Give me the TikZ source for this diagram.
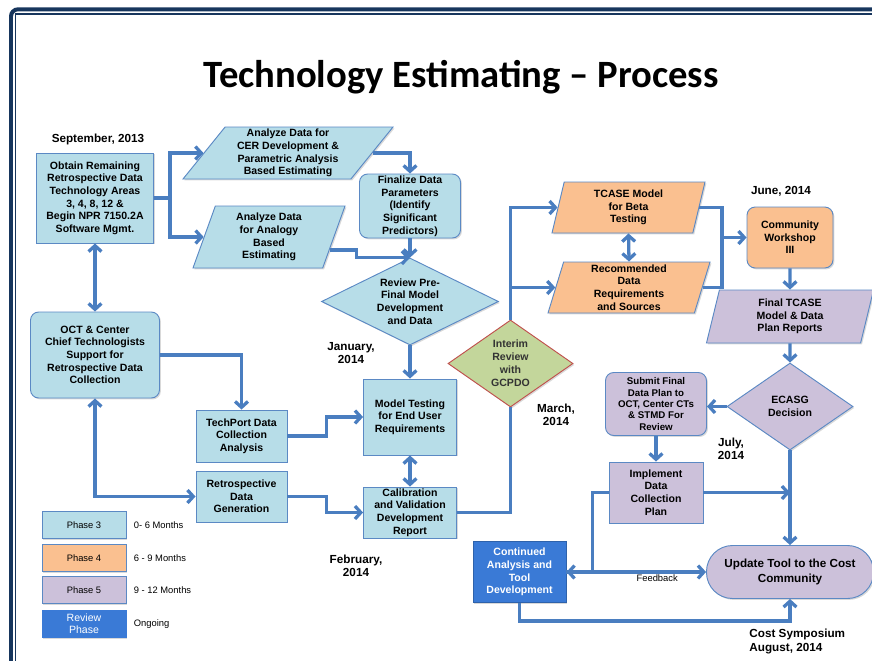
\documentclass[tikz,border=0pt]{standalone}
\usepackage{fontspec}
\setmainfont{Liberation Sans}
\newfontfamily\titlefont{Carlito}
\usetikzlibrary{shapes.geometric, arrows.meta, shadows, positioning}

\definecolor{phasethree}{RGB}{183,221,232}
\definecolor{phasefour}{RGB}{250,192,144}
\definecolor{phasefive}{RGB}{204,193,218}
\definecolor{reviewblue}{RGB}{58,122,214}
\definecolor{interimgreen}{RGB}{195,214,155}
\definecolor{interimred}{RGB}{192,80,77}
\definecolor{boxline}{RGB}{91,137,196}
\definecolor{linkblue}{RGB}{74,126,192}
\definecolor{framenavy}{RGB}{23,54,93}

\begin{document}
\begin{tikzpicture}[
    x=0.03cm, y=-0.03cm, >={Straight Barb[length=5pt,width=11pt]},
    every node/.style={align=center, inner sep=1pt},
    boxsize/.style 2 args={minimum width=#1*0.03cm, minimum height=#2*0.03cm},
    txt/.style={font=\bfseries\fontsize{9}{10.8}\selectfont},
    boxshadow/.style={drop shadow={shadow xshift=1.2pt, shadow yshift=-1.2pt, opacity=0.3}},
    task/.style={txt, boxshadow, rectangle, draw=boxline, line width=0.8pt},
    roundtask/.style={task, rounded corners=7pt},
    datain/.style={txt, boxshadow, trapezium, trapezium stretches body, draw=boxline, line width=0.8pt},
    decision/.style={txt, boxshadow, diamond, draw=boxline, line width=0.8pt, inner sep=0pt},
    datelabel/.style={font=\bfseries\fontsize{10}{11.5}\selectfont},
    flowarrow/.style={->, draw=linkblue, line width=2.8pt},
    flowline/.style={draw=linkblue, line width=2.8pt},
    legendbox/.style={boxshadow, rectangle, draw=boxline, line width=0.8pt, boxsize={84}{27}, font=\fontsize{8}{9.5}\selectfont},
    legendtext/.style={font=\fontsize{8}{9.5}\selectfont}
]
    \useasboundingbox (0,0) rectangle (872,660);
    \draw[framenavy, line width=3.4pt, rounded corners=6pt] (11,670) -- (11,9.3) -- (880,9.3);
    \draw[framenavy, line width=1.1pt] (15.6,670) -- (15.6,14) -- (880,14);

    \node[anchor=base, font=\titlefont\bfseries\fontsize{33}{36}\selectfont] (title) at (461,87)
        {Technology Estimating – Process};

    \node[task, fill=phasethree, boxsize={117}{90}] (obtain) at (95,198)
        {Obtain Remaining\\Retrospective Data\\Technology Areas\\3, 4, 8, 12 \&\\Begin NPR 7150.2A\\Software Mgmt.};
    \node[datain, fill=phasethree, trapezium left angle=50, trapezium right angle=130, boxsize={210}{52}] (cer) at (288,153)
        {Analyze Data for\\CER Development \&\\Parametric Analysis\\Based Estimating};
    \node[datain, fill=phasethree, trapezium left angle=66, trapezium right angle=114, boxsize={152}{62}] (analogy) at (269,237)
        {Analyze Data\\for Analogy\\Based\\Estimating};
    \node[roundtask, fill=phasethree, boxsize={101}{64}] (finalize) at (410,206)
        {Finalize Data\\Parameters\\(Identify\\Significant\\Predictors)};
    \node[decision, fill=phasethree, aspect=2, boxsize={177}{87}] (review) at (410,301.5)
        {Review Pre-\\Final Model\\Development\\and Data};
    \node[roundtask, fill=phasethree, boxsize={129}{86}] (oct) at (95,355)
        {OCT \& Center\\Chief Technologists\\Support for\\Retrospective Data\\Collection};
    \node[task, fill=phasethree, boxsize={91}{52}] (techport) at (241.5,436)
        {TechPort Data\\Collection\\Analysis};
    \node[task, fill=phasethree, boxsize={91}{51}] (retro) at (241.5,496.5)
        {Retrospective\\Data\\Generation};
    \node[task, fill=phasethree, boxsize={93}{76}] (modeltest) at (410,417)
        {Model Testing\\for End User\\Requirements};
    \node[task, fill=phasethree, boxsize={93}{51}] (calib) at (410,512.5)
        {Calibration\\and Validation\\Development\\Report};

    \node[decision, fill=interimgreen, draw=interimred, aspect=1.4, boxsize={125}{87},
        text=black!80, font=\bfseries\fontsize{9}{11.2}\selectfont] (interim) at (510.5,363.5)
        {Interim\\Review\\with\\GCPDO};

    \node[datain, fill=phasefour, trapezium left angle=72, trapezium right angle=108, boxsize={153}{51}] (tcase) at (628.5,207.5)
        {TCASE Model\\for Beta\\Testing};
    \node[datain, fill=phasefour, trapezium left angle=72, trapezium right angle=108, boxsize={162}{51}] (recommend) at (629,287.5)
        {Recommended\\Data\\Requirements\\and Sources};
    \node[roundtask, fill=phasefour, boxsize={86}{61}] (workshop) at (790,237.5)
        {Community\\Workshop\\III};

    \node[datain, fill=phasefive, trapezium left angle=71, trapezium right angle=109, boxsize={167}{53}] (finalplan) at (790,316.5)
        {Final TCASE\\Model \& Data\\Plan Reports};
    \node[decision, fill=phasefive, aspect=1.45, boxsize={126}{87}] (ecasg) at (790,406.5)
        {ECASG\\Decision};
    \node[roundtask, fill=phasefive, boxsize={101}{63}, font=\bfseries\fontsize{8.3}{9.8}\selectfont] (submit) at (656,404)
        {Submit Final\\Data Plan to\\OCT, Center CTs\\\& STMD For\\Review};
    \node[task, fill=phasefive, boxsize={94}{61}] (implement) at (656,492.5)
        {Implement\\Data\\Collection\\Plan};
    \node[task, fill=reviewblue, draw=reviewblue!80!black, text=white, boxsize={93}{61}] (continued) at (519.5,572)
        {Continued\\Analysis and\\Tool\\Development};
    \node[txt, boxshadow, fill=phasefive, draw=boxline, line width=0.8pt, rounded corners=0.78cm, boxsize={167}{53},
        font=\bfseries\fontsize{10}{12.5}\selectfont] (update) at (790,572)
        {Update Tool to the Cost\\Community};

    \node[datelabel] (sept) at (98,139) {September, 2013};
    \node[datelabel] (jan) at (351,353) {January,\\2014};
    \node[datelabel] (feb) at (356,566) {February,\\2014};
    \node[datelabel] (mar) at (556,415) {March,\\2014};
    \node[datelabel] (jun) at (781,191) {June, 2014};
    \node[datelabel] (jul) at (731,449) {July,\\2014};
    \node[datelabel, anchor=west, align=left] (symp) at (748,641.5) {Cost Symposium\\August, 2014};

    \node[legendbox, fill=phasethree] (leg3) at (84,525) {Phase 3};
    \node[legendbox, fill=phasefour] (leg4) at (84,558) {Phase 4};
    \node[legendbox, fill=phasefive] (leg5) at (84,590) {Phase 5};
    \node[legendbox, fill=reviewblue, draw=reviewblue, text=white, font=\fontsize{9}{10}\selectfont] (legrev) at (84,624) {Review\\Phase};
    \node[legendtext, right=0.18cm of leg3] (span3) {0- 6 Months};
    \node[legendtext, right=0.18cm of leg4] (span4) {6 - 9 Months};
    \node[legendtext, right=0.18cm of leg5] (span5) {9 - 12 Months};
    \node[legendtext, right=0.18cm of legrev] (spanrev) {Ongoing};

    \coordinate (fork) at (170,198);
    \coordinate (merge) at (722,237.5);

    \draw[flowline] (obtain.east) -- (fork);
    \draw[flowarrow] (fork) |- (cer.left side);
    \draw[flowarrow] (fork) |- (analogy.left side);
    \draw[flowarrow] (cer.right side) -| (finalize.north);
    \draw[flowarrow] (analogy.-12) -- ++(27,0) |- (review.north);
    \draw[flowarrow] (finalize.south) -- (review.north);
    \draw[flowarrow] (review.south) -- (modeltest.north);
    \draw[flowarrow] (oct.east) -| (techport.north);
    \draw[flowarrow] (techport.east) -- ++(39,0) |- (modeltest.west);
    \draw[flowarrow] (retro.east) -- ++(39,0) |- (calib.west);
    \draw[flowarrow, <->] (obtain.south) -- (oct.north);
    \draw[flowarrow, <->] (oct.south) |- (retro.west);
    \draw[flowarrow, <->] (modeltest.south) -- (calib.north);

    \draw[flowline] (calib.east) -| (interim.south);
    \draw[flowarrow] (interim.north) |- (tcase.left side);
    \draw[flowarrow] (interim.north) |- (recommend.left side);
    \draw[flowarrow, <->] (tcase.south) -- (recommend.north);
    \draw[flowline] (tcase.right side) -| (merge);
    \draw[flowline] (recommend.right side) -| (merge);
    \draw[flowarrow] (merge) -- (workshop.west);

    \draw[flowarrow] (workshop.south) -- (finalplan.north);
    \draw[flowarrow] (finalplan.south) -- (ecasg.north);
    \draw[flowarrow] (ecasg.west) -- (ecasg.west -| submit.east);
    \draw[flowarrow] (submit.south) -- (implement.north);
    \draw[flowarrow] (ecasg.south) -- (update.north);
    \draw[flowarrow] (implement.east) -- (implement.east -| ecasg.south);
    \draw[flowarrow] (implement.west) -- ++(-16,0) |- (continued.east);
    \draw[flowarrow] (continued.east) -- node[below, pos=0.65, font=\fontsize{8}{9}\selectfont] (feedback) {Feedback} (update.west);
    \draw[flowarrow] (continued.south) -- ++(0,18) -| (update.south);

\end{tikzpicture}
\end{document}
